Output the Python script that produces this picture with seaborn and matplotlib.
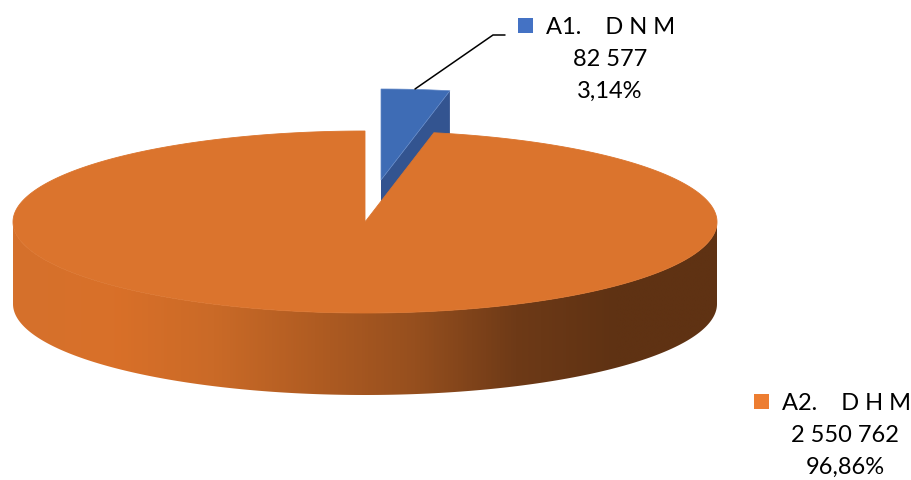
import numpy as np
import seaborn as sns
import matplotlib.pyplot as plt
from matplotlib.colors import ListedColormap
from matplotlib.patches import Polygon, Rectangle

# Данные
categories = ["A1.    D N M", "A2.    D H M"]
values = [82577, 2550762]
value_labels = ["82 577", "2 550 762"]
percent_labels = ["3,14%", "96,86%"]

# Цвета
legend_colors = ["#4472C4", "#ED7D31"]
top_orange = "#DB742D"
top_blue = "#3E6CB5"
cut_blue = "#335490"
side_stops = ["#D5712C", "#D97029", "#CA6A27", "#B05C22", "#964F1E", "#6E3A17", "#5F3213", "#5F3213"]

# Геометрия диска (в пикселях)
cx, cy = 365, 222
rx, ry = 352, 91
depth = 82
shift_x, shift_y = 16, -42

sns.set_style("white")
plt.rcParams["font.family"] = ["Lato", "DejaVu Sans"]

fig = plt.figure(figsize=(9.12, 4.8), dpi=100)
ax = fig.add_axes([0, 0, 1, 1])


def rim(angles, x0=cx, y0=cy):
    return x0 + rx * np.sin(angles), y0 - ry * np.cos(angles)


split = 2 * np.pi * values[0] / sum(values)

# === Выдвинутый сектор ===
bx, by = cx + shift_x, cy + shift_y
t = np.linspace(0, split, 30)
x_edge, y_edge = rim(t, bx, by)
ax.add_patch(Polygon([(x_edge[-1], y_edge[-1]), (bx, by), (bx, by + depth), (x_edge[-1], y_edge[-1] + depth)],
                     closed=True, facecolor=cut_blue, edgecolor="none"))
ax.add_patch(Polygon(np.r_[[(bx, by)], np.c_[x_edge, y_edge]], closed=True, facecolor=top_blue,
                     edgecolor="#5F86C6", linewidth=0.5))

# === Боковая стенка ===
t = np.linspace(np.pi / 2, 3 * np.pi / 2, 200)
x_low, y_low = rim(t)
wall = Polygon(np.r_[np.c_[x_low, y_low], np.c_[x_low[::-1], y_low[::-1] + depth]], closed=True,
               facecolor="none", edgecolor="none")
ax.add_patch(wall)
shades = ListedColormap(sns.blend_palette(side_stops, n_colors=256))
gradient = ax.imshow(np.linspace(0, 1, 512)[None, :], cmap=shades, aspect="auto",
                     extent=(cx - rx, cx + rx, cy + ry + depth, cy), interpolation="bilinear")
gradient.set_clip_path(wall)

# === Верхняя грань ===
t = np.linspace(split, 2 * np.pi, 400)
x_edge, y_edge = rim(t)
ax.add_patch(Polygon(np.r_[[(cx, cy)], np.c_[x_edge, y_edge]], closed=True, facecolor=top_orange,
                     edgecolor=top_orange, linewidth=0.6))

# === Подписи ===
ax.plot([415, 493, 505], [89, 35, 35], color="black", lw=1.1, solid_joinstyle="miter")

preset = {"fontsize": 17, "color": "black", "ha": "center", "va": "center"}
label_places = [(518, 26, 546, 610), (754, 402, 782, 845)]
for i, (box_x, row_y, text_x, center_x) in enumerate(label_places):
    ax.add_patch(Rectangle((box_x, row_y - 8), 15, 15, facecolor=legend_colors[i], edgecolor="none"))
    ax.text(text_x, row_y + 2, categories[i], **{**preset, "ha": "left"})
    ax.text(center_x, row_y + 34, value_labels[i], **preset)
    ax.text(center_x, row_y + 65, percent_labels[i], **preset)

ax.set_xlim(0, 912)
ax.set_ylim(480, 0)
ax.axis("off")

plt.savefig("out.png", dpi=100, facecolor="white")
plt.close()
